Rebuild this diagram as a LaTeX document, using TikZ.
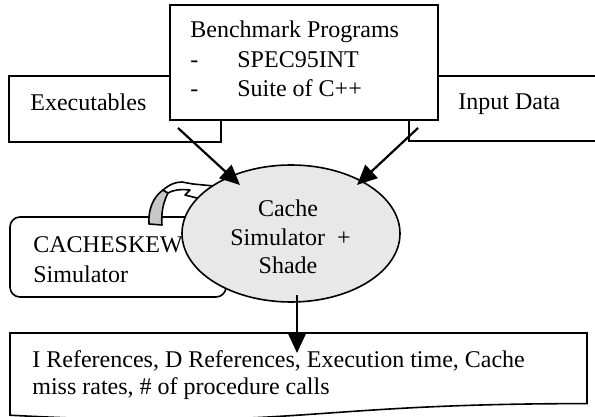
\documentclass[tikz,border=0pt]{standalone}
\usepackage{fontspec}
\setmainfont{Liberation Serif}
\usetikzlibrary{arrows.meta,shapes.geometric}
\definecolor{shadegray}{RGB}{232,232,232}
\definecolor{stripgray}{RGB}{200,200,200}
\begin{document}
\begin{tikzpicture}[x=0.5pt,y=-0.5pt,
  box/.style={draw, line width=0.8pt, fill=white, rectangle, inner sep=0pt},
  txt/.style={anchor=base west, inner sep=0pt, font=\fontsize{12pt}{14pt}\selectfont},
  ctxt/.style={anchor=base, inner sep=0pt, font=\fontsize{12pt}{14pt}\selectfont},
  arr/.style={line width=1.1pt, -{Triangle[length=10pt,width=9pt]}},
  outl/.style={draw, line width=0.8pt, line join=round}]
\useasboundingbox (0,0) rectangle (595,417);
\clip (0,0) rectangle (595,417);
% input boxes
\node[box, minimum width=106pt, minimum height=33pt] (exe) at (115,109) {};
\node[txt] (exetxt) at (30,111) {Executables};
\node[box, minimum width=115.5pt, minimum height=32.5pt] (inp) at (524.5,108.5) {};
\node[txt] (inptxt) at (458,110) {Input Data};
\node[box, minimum width=134pt, minimum height=57.5pt] (bench) at (304,62.5) {};
\node[txt] (b1) at (190,38) {Benchmark Programs};
\node[txt] (b2a) at (190,68) {-};
\node[txt] (b2b) at (237,68) {SPEC95INT};
\node[txt] (b3a) at (190,97) {-};
\node[txt] (b3b) at (237,97) {Suite of C++};
% CACHESKEW box
\node[box, rounded corners=5pt, minimum width=108pt, minimum height=40pt] (skew) at (118,257) {};
\node[txt] (s1) at (33,253) {CACHESKEW};
\node[txt] (s2) at (33,282) {Simulator};
% curved block arrow
\path[outl, fill=stripgray] (149,224) .. controls (148,210) and (153,197) .. (163,190)
  -- (168,193) .. controls (163,203) and (161,213) .. (162,225) -- cycle;
\path[outl, fill=white] (163,190) .. controls (170,184) and (176,182) .. (182,182)
  -- (193,184) -- (214,186) -- (207,202) -- (197,198) -- (185,195) -- (190,190)
  .. controls (180,189) and (173,190) .. (168,193) -- cycle;
% simulator ellipse
\node[ellipse, draw, line width=0.8pt, fill=shadegray, inner sep=0pt,
      minimum width=109pt, minimum height=68.5pt] (sim) at (291,233.5) {};
\node[ctxt] (c1) at (288,217) {Cache};
\node[txt] (c2) at (230,245) {Simulator\ \ +};
\node[ctxt] (c3) at (288,273) {Shade};
% output document
\path[draw, line width=0.8pt, fill=white] (10,333) -- (587,333) -- (587,403.6)
  .. controls (298.5,403.6) and (298.5,430.5) .. (10,415.2) -- cycle;
\node[txt] (o1) at (32,367) {I References, D References, Execution time, Cache};
\node[txt] (o2) at (32,394) {miss rates, \# of procedure calls};
% connectors
\coordinate (exeT) at (178,128);
\coordinate (simL) at (240,185);
\coordinate (inpT) at (418,128);
\coordinate (simR) at (357,185);
\coordinate (simB) at (297,295);
\coordinate (docT) at (297,353);
\draw[arr] (exeT) -- (simL);
\draw[arr] (inpT) -- (simR);
\draw[arr] (simB) -- (docT);
\end{tikzpicture}
\end{document}
